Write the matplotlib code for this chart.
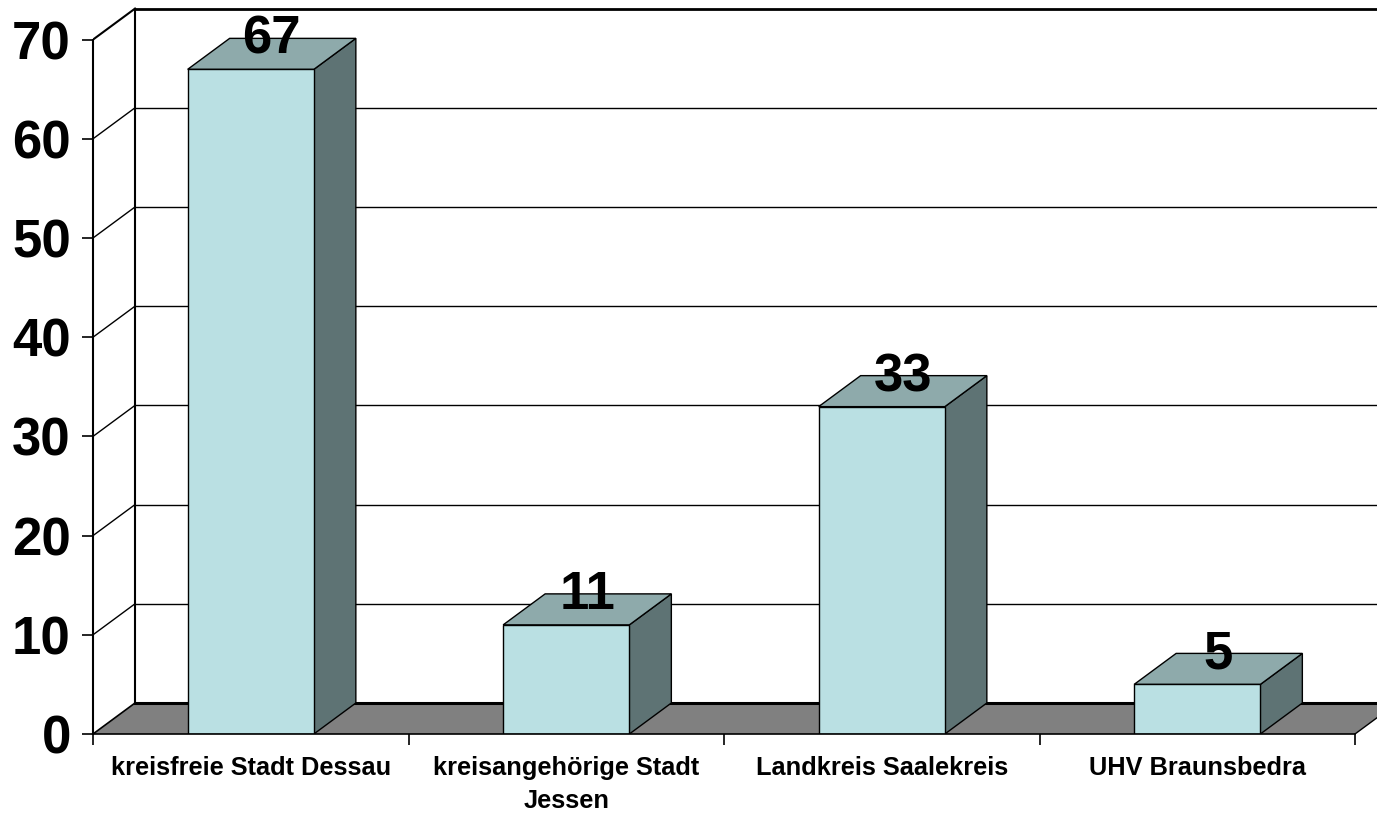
import matplotlib
matplotlib.use("Agg")
import matplotlib.pyplot as plt
from matplotlib.patches import Polygon

# Data
categories = ["kreisfreie Stadt Dessau", "kreisangehörige Stadt\nJessen",
              "Landkreis Saalekreis", "UHV Braunsbedra"]
values = [67, 11, 33, 5]
y_ticks = [0, 10, 20, 30, 40, 50, 60, 70]

plt.rcParams["font.family"] = ["Liberation Sans", "DejaVu Sans"]

W, H = 1377, 813
fig = plt.figure(figsize=(W / 100, H / 100), dpi=100)

# front plane geometry (pixels) -> axes placement
x0_px, y0_px = 93, 734          # origin of the front plane
cat_px = 315.5                  # width of one category
unit_px = 9.92                  # pixels per value unit
ax = fig.add_axes([x0_px / W, (H - y0_px) / H, (W - x0_px) / W, y0_px / H])
xmax = (W - x0_px) / cat_px
ymax = y0_px / unit_px
ax.set_xlim(0, xmax)
ax.set_ylim(0, ymax)

# depth of the 3-D box in data units
dx = 42 / cat_px
dy = 31 / unit_px
n = len(categories)
top_val = y_ticks[-1]

front_c = "#bae0e3"
top_c = "#8eaaab"
side_c = "#5e7374"
floor_c = "#808080"

# back wall gridlines and the left side wall
for v in y_ticks[1:-1]:
    ax.plot([0, dx], [v, v + dy], color="black", lw=1.0, zorder=1)
    ax.plot([dx, xmax + 1], [v + dy, v + dy], color="black", lw=1.0, zorder=1)
ax.plot([0, dx], [top_val, top_val + dy], color="black", lw=1.5, zorder=1)
ax.plot([dx, xmax + 1], [top_val + dy, top_val + dy], color="black", lw=2.0, zorder=1)
ax.plot([dx, dx], [dy, top_val + dy], color="black", lw=1.5, zorder=1)

# floor
ax.add_patch(Polygon([(0, 0), (n, 0), (n + dx, dy), (dx, dy)], closed=True,
                     facecolor=floor_c, edgecolor="none", zorder=2))
ax.plot([0, dx], [0, dy], color="black", lw=1.2, zorder=2.1)
ax.plot([dx, xmax + 1], [dy, dy], color="black", lw=2.2, zorder=2.1)
ax.plot([n, n + dx], [0, dy], color="black", lw=1.0, zorder=2.1)

# bars
half = 0.2
for i, v in enumerate(values):
    c = i + 0.5
    l, r = c - half, c + half
    ax.add_patch(Polygon([(r, 0), (r + dx, dy), (r + dx, v + dy), (r, v)], closed=True,
                         facecolor=side_c, edgecolor="black", lw=1.0, zorder=3))
    ax.add_patch(Polygon([(l, v), (r, v), (r + dx, v + dy), (l + dx, v + dy)], closed=True,
                         facecolor=top_c, edgecolor="black", lw=1.0, zorder=3))
    ax.add_patch(Polygon([(l, 0), (r, 0), (r, v), (l, v)], closed=True,
                         facecolor=front_c, edgecolor="black", lw=1.0, zorder=3))
    ax.text(c + dx / 2, v + dy / 2, f"{v}", ha="center", va="baseline",
            fontsize=38, fontweight="bold", zorder=4)

# axes: spines, ticks, labels
for s in ["top", "right"]:
    ax.spines[s].set_visible(False)
ax.spines["left"].set_bounds(0, top_val)
ax.spines["bottom"].set_bounds(0, n)
ax.spines["left"].set_linewidth(1.5)
ax.spines["bottom"].set_linewidth(1.2)
ax.spines["left"].set_zorder(5)
ax.spines["bottom"].set_zorder(5)

ax.set_yticks(y_ticks)
ax.set_yticklabels([str(t) for t in y_ticks], fontsize=38, fontweight="bold")
ax.tick_params(axis="y", direction="out", length=8, width=1.2, pad=8)

ax.set_xticks(range(n + 1))
ax.set_xticklabels([])
ax.set_xticks([i + 0.5 for i in range(n)], minor=True)
ax.set_xticklabels(categories, minor=True, fontsize=18.3, fontweight="bold",
                   linespacing=1.5)
ax.tick_params(axis="x", which="major", direction="out", length=8, width=1.2)
ax.tick_params(axis="x", which="minor", length=0, pad=15.5)

fig.savefig("out.png", dpi=100)
